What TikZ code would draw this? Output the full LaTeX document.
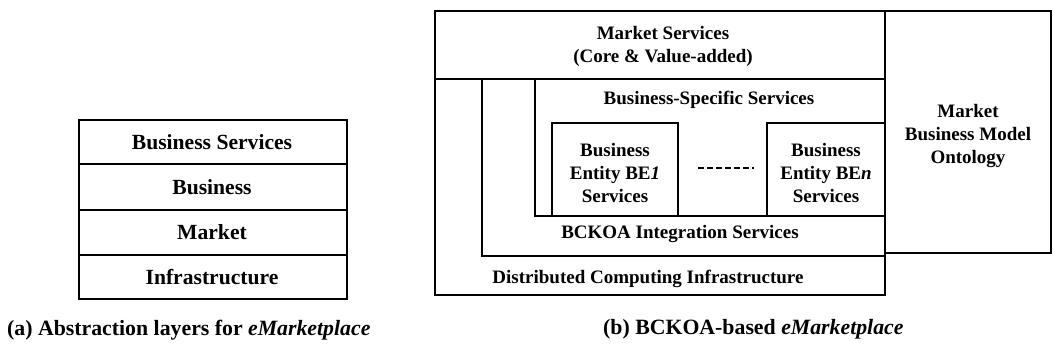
\documentclass[tikz,border=0pt]{standalone}
\usepackage{fontspec}
\setmainfont{Liberation Serif}
\begin{document}
\begin{tikzpicture}[x=1pt,y=-1pt,
  frame/.style={draw=black,line width=2.8pt},
  lbl/.style={font=\fontsize{21.6}{24}\selectfont\bfseries,inner sep=0pt,align=center},
  rlbl/.style={font=\fontsize{19}{23}\selectfont\bfseries,inner sep=0pt,align=center},
  captxt/.style={font=\fontsize{21.8}{25}\selectfont\bfseries,inner sep=0pt,anchor=west}]
\useasboundingbox (0,0) rectangle (1053,352);
% ---- (a) left panel
\draw[frame] (79,120) rectangle (347,299);
\draw[frame] (79,164) -- (347,164);
\draw[frame] (79,210) -- (347,210);
\draw[frame] (79,255) -- (347,255);
\node[lbl] (bs) at (212,142) {Business Services};
\node[lbl] (bu) at (212,187) {Business};
\node[lbl] (mk) at (212,232) {Market};
\node[lbl] (in) at (212,277) {Infrastructure};
\node[captxt] (capa) at (7,330) {(a) Abstraction layers for \textit{eMarketplace}};
% ---- (b) right panel
\draw[frame] (435,11) rectangle (885,295);
\draw[frame] (435,79) -- (885,79);
\draw[frame] (482,79) -- (482,256) -- (885,256);
\draw[frame] (535,79) -- (535,216) -- (885,216);
\draw[frame] (552,123) rectangle (678,216);
\draw[frame] (767,123) rectangle (885,216);
\draw[frame] (885,11) rectangle (1051,253);
\node[rlbl] (ms) at (663,46) {Market Services\\(Core \& Value-added)};
\node[rlbl] (bss) at (709,100) {Business-Specific Services};
\node[rlbl] (be1) at (615,173) {Business\\Entity BE\textit{1}\\Services};
\node[rlbl] (ben) at (826,173) {Business\\Entity BE\textit{n}\\Services};
\coordinate (d1) at (698,168);
\coordinate (d2) at (754,168);
\draw[line width=2.8pt,dash pattern=on 6pt off 3pt] (d1) -- (d2);
\node[rlbl] (bis) at (680,234) {BCKOA Integration Services};
\node[rlbl] (dci) at (648,279) {Distributed Computing Infrastructure};
\node[rlbl] (ont) at (968,136) {Market\\Business Model\\Ontology};
\node[captxt] (capb) at (603,329) {(b) BCKOA-based \textit{eMarketplace}};
\end{tikzpicture}
\end{document}
